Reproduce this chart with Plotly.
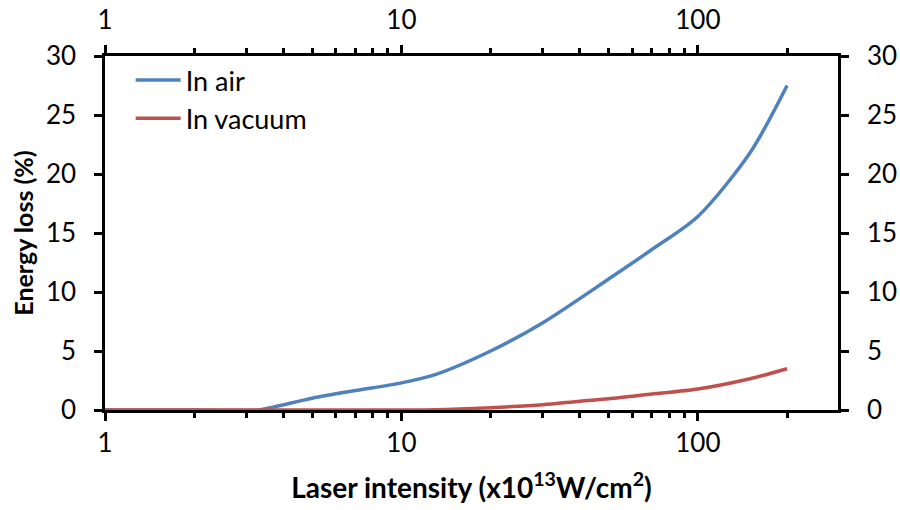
import plotly.graph_objects as go
import numpy as np

# Data
intensity_air = [1, 2, 3, 3.3, 5, 7, 10, 13, 20, 30, 50, 70, 100, 150, 200]
loss_air = [0, 0, -0.05, 0, 1.0, 1.65, 2.3, 3.0, 5.0, 7.4, 11.1, 13.6, 16.4, 21.8, 27.5]
intensity_vac = [1, 2, 3, 5, 10, 13, 20, 30, 40, 50, 70, 100, 150, 200]
loss_vac = [0, 0, 0, 0, 0, 0.02, 0.2, 0.45, 0.75, 0.95, 1.35, 1.78, 2.65, 3.5]
series_names = ["In air", "In vacuum"]
colors = ["#4F81BD", "#C0504D"]
x_major = [1, 10, 100]
x_minor = [2, 3, 4, 5, 6, 7, 8, 9, 20, 30, 40, 50, 60, 70, 80, 90, 200]
y_ticks = [0, 5, 10, 15, 20, 25, 30]

FONT = "Lato"
W, H = 900, 510
ML, MR, MT, MB = 105, 20, 56, 100
plot_right = 838
DOM = (plot_right - ML) / (W - ML - MR)
RIGHT_LABEL_POS = (866 - ML) / (W - ML - MR)

fig = go.Figure()
fig.add_trace(go.Scatter(x=intensity_air, y=loss_air, mode="lines", name=series_names[0],
                         line=dict(color=colors[0], width=3.5, shape="spline", smoothing=0.8)))
fig.add_trace(go.Scatter(x=intensity_vac, y=loss_vac, mode="lines", name=series_names[1],
                         line=dict(color=colors[1], width=3.5, shape="spline", smoothing=0.8)))
# invisible trace to bind the secondary (top/right) axes
fig.add_trace(go.Scatter(x=intensity_air, y=loss_air, xaxis="x2", yaxis="y2", mode="lines",
                         line=dict(color="rgba(0,0,0,0)"), showlegend=False, hoverinfo="skip"))

xr = [0, np.log10(297)]
common_x = dict(type="log", range=xr, tickmode="array", tickvals=x_major,
                ticktext=[str(v) for v in x_major], automargin=False, domain=[0, DOM],
                showline=True, linecolor="black", linewidth=2.5, showgrid=False,
                ticks="outside", ticklen=8, tickwidth=2.5, tickcolor="black",
                tickfont=dict(family=FONT, size=26, color="black"),
                minor=dict(tickmode="array", tickvals=x_minor, ticks="outside",
                           ticklen=5, tickwidth=2.5, tickcolor="black", showgrid=False),
                zeroline=False)
common_y = dict(range=[0, 30], tickmode="array", tickvals=y_ticks, automargin=False,
                showgrid=False, tickfont=dict(family=FONT, size=26, color="black"),
                zeroline=False)

fig.update_layout(
    width=W, height=H,
    margin=dict(l=ML, r=MR, t=MT, b=MB),
    paper_bgcolor="white", plot_bgcolor="white",
    font=dict(family=FONT, color="black"),
    xaxis=dict(**common_x, ticklabelstandoff=0,
               title=dict(text="<b>Laser intensity (x10<sup>13</sup>W/cm<sup>2</sup>)</b>",
                          font=dict(family=FONT, size=28), standoff=22)),
    xaxis2=dict(**common_x, overlaying="x", side="top", ticklabelstandoff=6),
    yaxis=dict(**common_y, ticklabelstandoff=13, mirror="allticks",
               showline=True, linecolor="black", linewidth=2.5,
               ticks="outside", ticklen=8, tickwidth=2.5, tickcolor="black",
               title=dict(text="<b>Energy loss (%)</b>", font=dict(family=FONT, size=25), standoff=6)),
    yaxis2=dict(**common_y, overlaying="y", side="right", anchor="free",
                position=RIGHT_LABEL_POS, showline=False, ticks=""),
    legend=dict(x=0.035 * (733 / 775) / DOM * DOM, y=1.0, xanchor="left", yanchor="top",
                font=dict(family=FONT, size=27), bgcolor="rgba(0,0,0,0)",
                itemwidth=45, tracegroupgap=0),
    showlegend=True,
)

fig.write_html("out.html")
